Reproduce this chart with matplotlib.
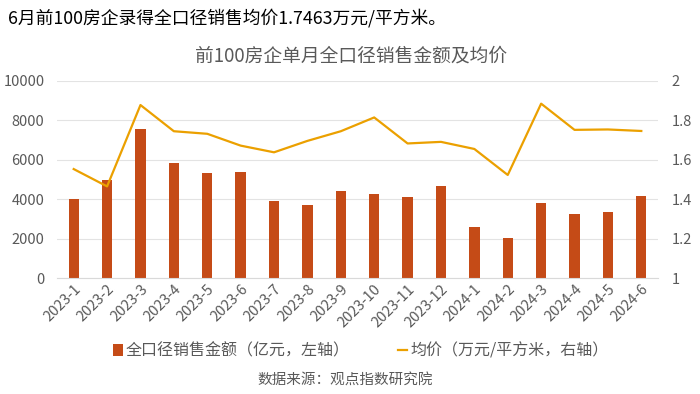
import matplotlib
matplotlib.use("Agg")
import matplotlib.pyplot as plt
import numpy as np

plt.rcParams['font.family'] = ['Noto Sans CJK SC', 'DejaVu Sans']

months = ["2023-1", "2023-2", "2023-3", "2023-4", "2023-5", "2023-6", "2023-7", "2023-8",
          "2023-9", "2023-10", "2023-11", "2023-12", "2024-1", "2024-2", "2024-3", "2024-4",
          "2024-5", "2024-6"]
sales = [3990, 4990, 7570, 5820, 5310, 5380, 3910, 3700, 4430, 4245, 4110, 4670,
         2600, 2040, 3800, 3260, 3365, 4180]
price = [1.553, 1.465, 1.878, 1.745, 1.732, 1.672, 1.638, 1.696, 1.745, 1.815, 1.683,
         1.691, 1.655, 1.523, 1.885, 1.752, 1.754, 1.7463]
left_ticks = [0, 2000, 4000, 6000, 8000, 10000]
right_ticks = [1, 1.2, 1.4, 1.6, 1.8, 2]
right_labels = ["1", "1.2", "1.4", "1.6", "1.8", "2"]

bar_color = "#C54B17"
line_color = "#EBA000"
text_gray = "#595959"

fig = plt.figure(figsize=(7, 3.94), dpi=100)
ax = fig.add_axes([57/700, 1-278/394, 601/700, 197/394])
x = np.arange(len(months))
ax.bar(x, sales, width=0.31, color=bar_color, label="全口径销售金额（亿元，左轴）", zorder=2)
ax.set_xlim(-0.5, len(months)-0.5)
ax.set_ylim(0, 10000)
ax.set_yticks(left_ticks)
ax.set_yticklabels([str(t) for t in left_ticks])
ax.grid(axis='y', color="#E3E3E3", linewidth=0.8, zorder=0)
ax.set_axisbelow(True)
for s in ["top", "right", "left"]:
    ax.spines[s].set_visible(False)
ax.spines["bottom"].set_color("#D9D9D9")
ax.tick_params(axis='y', length=0, labelsize=10.5, colors=text_gray, pad=9)
ax.tick_params(axis='x', length=0, labelsize=10.5, colors=text_gray, pad=3)
ax.set_xticks(x)
ax.set_xticklabels(months, rotation=45, ha='right', rotation_mode='anchor')

ax2 = ax.twinx()
ax2.plot(x, price, color=line_color, linewidth=1.6, label="均价（万元/平方米，右轴）", zorder=3)
ax2.set_ylim(1, 2)
ax2.set_yticks(right_ticks)
ax2.set_yticklabels(right_labels)
for s in ["top", "right", "left", "bottom"]:
    ax2.spines[s].set_visible(False)
ax2.tick_params(axis='y', length=0, labelsize=10.5, colors=text_gray, pad=10)

fig.text(8/700, 1-18/394, "6月前100房企录得全口径销售均价1.7463万元/平方米。",
         fontsize=12.8, color="black", va='center', ha='left', fontweight='medium')
fig.text(351/700, 1-56/394, "前100房企单月全口径销售金额及均价",
         fontsize=13.5, color=text_gray, va='center', ha='center')

h1, l1 = ax.get_legend_handles_labels()
h2, l2 = ax2.get_legend_handles_labels()
fig.legend(h1 + h2, l1 + l2, loc='center', bbox_to_anchor=(361/700, 1-351/394),
           ncol=2, frameon=False, fontsize=11.5, labelcolor=text_gray,
           handlelength=0.6, handletextpad=0.2, columnspacing=3.0)
fig.text(345/700, 1-381/394, "数据来源：观点指数研究院", fontsize=10.5, color=text_gray,
         va='center', ha='center')

fig.savefig("out.png", dpi=100)
